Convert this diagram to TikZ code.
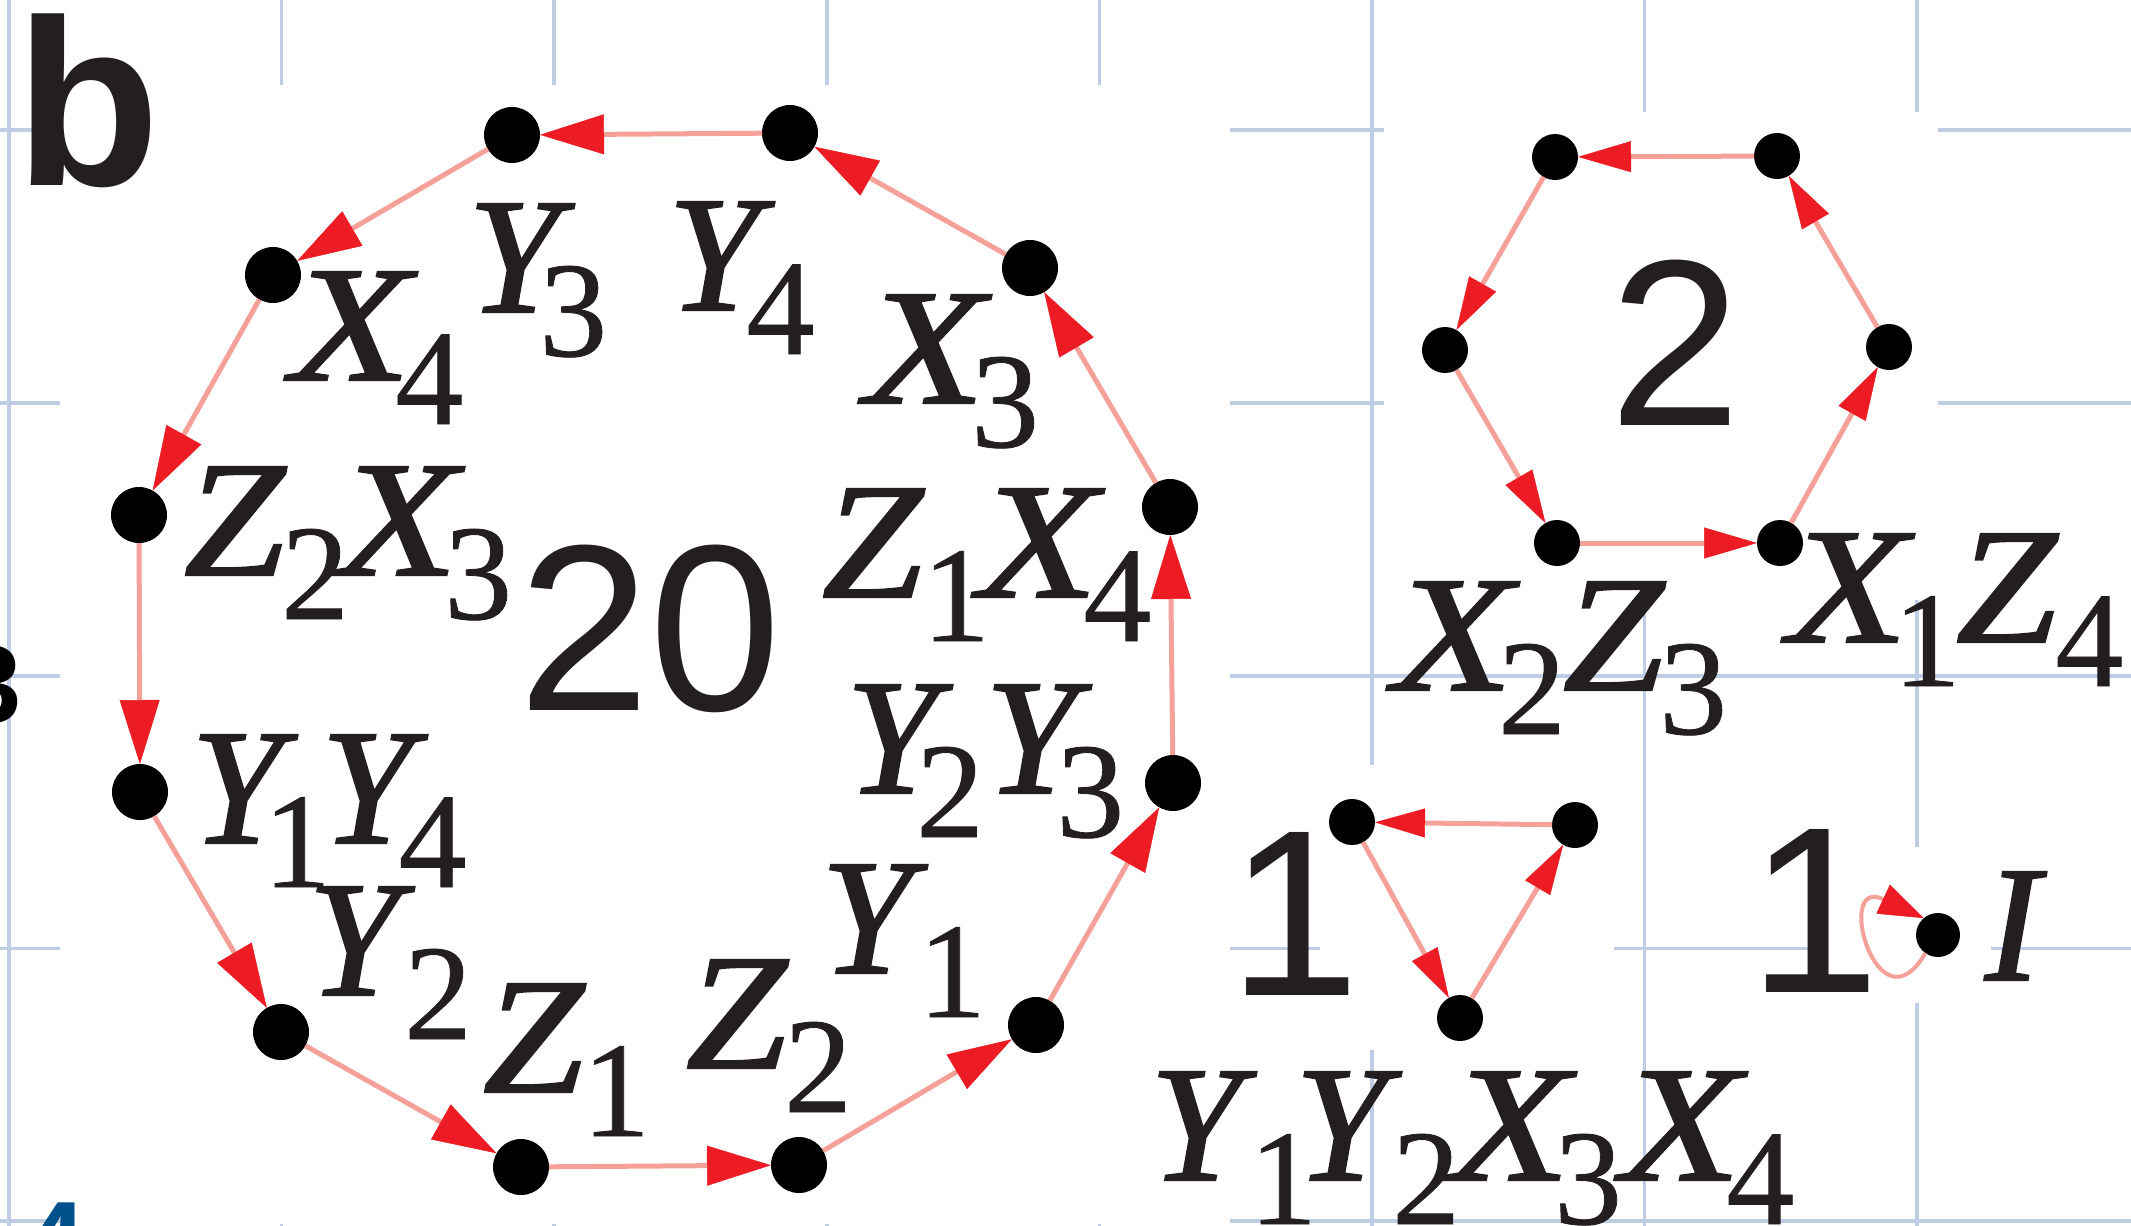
\documentclass[tikz,border=0pt]{standalone}
\usepackage{graphicx}
\usepackage{fontspec}
\setmainfont{Liberation Serif}[ItalicFeatures={FakeBold=1.4},UprightFeatures={FakeBold=0.6}]
\newfontfamily\sansf{Liberation Sans}
\usetikzlibrary{arrows.meta}
\definecolor{gridblue}{RGB}{190,205,228}
\definecolor{edgepink}{RGB}{245,160,152}
\definecolor{arrowred}{RGB}{237,28,36}
\definecolor{inkc}{RGB}{35,31,32}
\definecolor{darkblue}{RGB}{0,80,140}
\newcommand\mL[1]{{\fontsize{165}{165}\selectfont\itshape #1}}
\newcommand\mX{\scalebox{1.19}[1]{\mL{X}}}
\newcommand\mZ{\scalebox{1.1}[1]{\mL{Z}}}
\newcommand\mD[1]{\raisebox{-44pt}{\fontsize{136}{136}\selectfont #1}}
\newcommand\hk[1]{\kern#1pt}
\newcommand\bigsf{\fontsize{237}{237}\selectfont\sansf}
\begin{document}
\begin{tikzpicture}[x=1pt,y=1pt,
  lbl/.style={inner sep=0pt, outer sep=0pt, anchor=base west, text=inkc},
  dotA/.style={circle, fill=black, inner sep=0pt, outer sep=0pt, minimum size=56pt},
  dotB/.style={circle, fill=black, inner sep=0pt, outer sep=0pt, minimum size=46pt},
  dotC/.style={circle, fill=black, inner sep=0pt, outer sep=0pt, minimum size=44pt},
  gridline/.style={draw=gridblue, line width=3.5pt},
  edgeA/.style={draw=edgepink, line width=5pt, -{Triangle[length=64pt,width=40pt,color=arrowred,line width=0.5pt]}},
  edgeB/.style={draw=edgepink, line width=5pt, -{Triangle[length=53pt,width=31pt,color=arrowred,line width=0.5pt]}},
  edgeC/.style={draw=edgepink, line width=5pt, -{Triangle[length=50pt,width=29pt,color=arrowred,line width=0.5pt]}},
  edgeD/.style={draw=edgepink, line width=4pt, -{Triangle[length=45pt,width=32pt,color=arrowred,line width=0.5pt]}},
  patch/.style={fill=white}
]
\useasboundingbox (0,0) rectangle (2131,-1226);
\clip (0,0) rectangle (2131,-1226);
% background grid
\foreach \gx in {9,281.6,554.2,826.8,1099.4,1372,1644.6,1917.2}
  \draw[gridline] (\gx,0) -- (\gx,-1226);
\foreach \gy in {130,403,676,948.5,1221}
  \draw[gridline] (0,-\gy) -- (2131,-\gy);
% white patches
\fill[patch] (60,-85) rectangle (1230,-1223.5);
\fill[patch] (1384,-112) rectangle (1938,-600);
\fill[patch] (1320,-765) rectangle (1614,-1050);
\fill[patch] (1817,-847) rectangle (1991,-1003);
% clipped neighbouring glyphs
\node[lbl, text=black] (edge3) at (-39,-722) {\fontsize{110}{110}\selectfont\sansf\bfseries 3};
\node[lbl, text=darkblue] (edge4) at (24,-1278) {\fontsize{110}{110}\selectfont\sansf\bfseries 4};
% panel letter and counts
\node[lbl] (panelb) at (15.4,-185) {\bigsf\bfseries b};
\node[lbl] (n20) at (518,-710) {\bigsf 20};
\node[lbl] (n2) at (1609,-425) {\bigsf 2};
\node[lbl] (n1a) at (1228,-995) {\bigsf 1};
\node[lbl] (n1b) at (1748,-992) {\bigsf 1};
% 12-cycle nodes
\node[dotA] (nY3) at (512,-135) {};
\node[dotA] (nY4) at (790,-133) {};
\node[dotA] (nX3) at (1030,-268) {};
\node[dotA] (nZ1X4) at (1170,-507) {};
\node[dotA] (nY2Y3) at (1173,-783) {};
\node[dotA] (nY1) at (1036,-1025) {};
\node[dotA] (nZ2) at (799,-1165) {};
\node[dotA] (nZ1) at (521,-1167) {};
\node[dotA] (nY2) at (281,-1032) {};
\node[dotA] (nY1Y4) at (140,-792) {};
\node[dotA] (nZ2X3) at (139,-515) {};
\node[dotA] (nX4) at (273,-275) {};
% hexagon nodes
\node[dotB] (hTL) at (1555,-157) {};
\node[dotB] (hTR) at (1777,-156) {};
\node[dotB] (hL) at (1445,-350) {};
\node[dotB] (hR) at (1889,-347) {};
\node[dotB] (hBL) at (1557,-543) {};
\node[dotB] (hBR) at (1780,-543) {};
% triangle nodes
\node[dotB] (tTL) at (1352,-822) {};
\node[dotB] (tTR) at (1575,-825) {};
\node[dotB] (tB) at (1460,-1018) {};
% identity node
\node[dotC] (nI) at (1938,-935) {};
% 12-cycle edges
\draw[edgeA] (nY4) -- (nY3);
\draw[edgeA] (nY3) -- (nX4);
\draw[edgeA] (nX4) -- (nZ2X3);
\draw[edgeA] (nZ2X3) -- (nY1Y4);
\draw[edgeA] (nY1Y4) -- (nY2);
\draw[edgeA] (nY2) -- (nZ1);
\draw[edgeA] (nZ1) -- (nZ2);
\draw[edgeA] (nZ2) -- (nY1);
\draw[edgeA] (nY1) -- (nY2Y3);
\draw[edgeA] (nY2Y3) -- (nZ1X4);
\draw[edgeA] (nZ1X4) -- (nX3);
\draw[edgeA] (nX3) -- (nY4);
% hexagon edges
\draw[edgeB] (hTR) -- (hTL);
\draw[edgeB] (hTL) -- (hL);
\draw[edgeB] (hL) -- (hBL);
\draw[edgeB] (hBL) -- (hBR);
\draw[edgeB] (hBR) -- (hR);
\draw[edgeB] (hR) -- (hTR);
% triangle edges
\draw[edgeC] (tTR) -- (tTL);
\draw[edgeC] (tTL) -- (tB);
\draw[edgeC] (tB) -- (tTR);
% self loop
\draw[edgeD] (nI.235) .. controls +(240:95) and +(155:100) .. (nI.130);
% labels
\node[lbl] (lY3) at (468,-312) {\mL{Y}\hk{-20.5}\mD{3}};
\node[lbl] (lY4) at (668,-310) {\mL{Y}\hk{-13.3}\mD{4}};
\node[lbl] (lX3) at (865,-403) {\mX\hk{-13.8}\mD{3}};
\node[lbl] (lZ1X4) at (822,-597) {\mZ\hk{-0.9}\mD{1}\hk{-12}\mX\hk{-14.6}\mD{4}};
\node[lbl] (lY2Y3) at (846,-793) {\mL{Y}\hk{-21.7}\mD{2}\hk{1}\mL{Y}\hk{-20.5}\mD{3}};
\node[lbl] (lY1) at (821,-973) {\mL{Y}\hk{5.3}\mD{1}};
\node[lbl] (lZ2) at (686,-1068) {\mZ\hk{-2.9}\mD{2}};
\node[lbl] (lZ1) at (483,-1092) {\mZ\hk{-1.9}\mD{1}};
\node[lbl] (lY2) at (308,-995) {\mL{Y}\hk{4.3}\mD{2}};
\node[lbl] (lY1Y4) at (191,-843) {\mL{Y}\hk{-19.7}\mD{1}\hk{-10}\mL{Y}\hk{-14.3}\mD{4}};
\node[lbl] (lZ2X3) at (184,-575) {\mZ\hk{-3.9}\mD{2}\hk{-11}\mX\hk{-13.8}\mD{3}};
\node[lbl] (lX4) at (291,-380) {\mX\hk{-15.6}\mD{4}};
\node[lbl] (lX2Z3) at (1393,-690) {\mX\hk{-15}\mD{2}\hk{-3}\mZ\hk{-4.7}\mD{3}};
\node[lbl] (lX1Z4) at (1788,-642) {\mX\hk{-15}\mD{1}\hk{-5}\mZ\hk{-1.5}\mD{4}};
\node[lbl] (lYYXX) at (1150,-1180) {\mL{Y}\hk{7.3}\mD{1}\hk{-22}\mL{Y}\hk{5.3}\mD{2}\hk{-10}\mX\hk{-16}\mD{3}\hk{-1}\mX\hk{-14.6}\mD{4}};
\node[lbl] (lI) at (1985,-980) {\mL{I}};
\end{tikzpicture}
\end{document}
